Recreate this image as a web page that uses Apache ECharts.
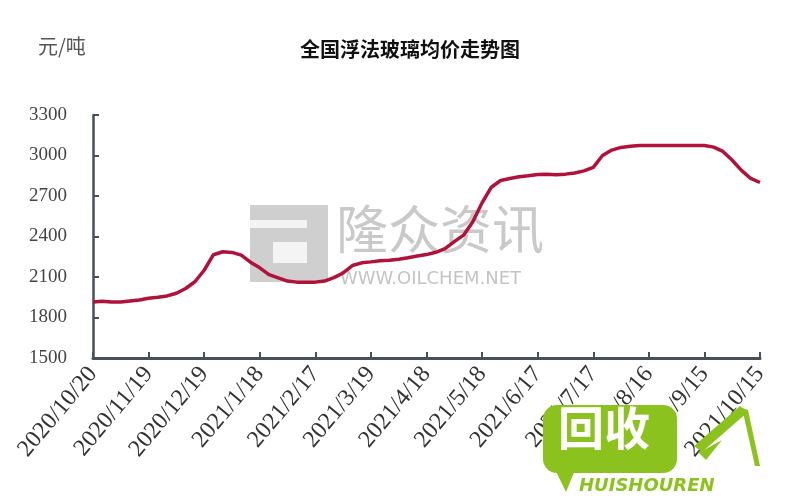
<!DOCTYPE html>
<html>
<head>
<meta charset="utf-8">
<script src="https://cdn.jsdelivr.net/npm/echarts@6/dist/echarts.min.js"></script>
<style>html,body{margin:0;padding:0;background:#fff;}#c{width:800px;height:500px;}</style>
</head>
<body>
<div id="c"></div>
<script>
var categories = [
'2020/10/20','2020/10/25','2020/10/30','2020/11/4','2020/11/9','2020/11/14',
'2020/11/19','2020/11/24','2020/11/29','2020/12/4','2020/12/9','2020/12/14',
'2020/12/19','2020/12/24','2020/12/29','2021/1/3','2021/1/8','2021/1/13',
'2021/1/18','2021/1/23','2021/1/28','2021/2/2','2021/2/7','2021/2/12',
'2021/2/17','2021/2/22','2021/2/27','2021/3/4','2021/3/9','2021/3/14',
'2021/3/19','2021/3/24','2021/3/29','2021/4/3','2021/4/8','2021/4/13',
'2021/4/18','2021/4/23','2021/4/28','2021/5/3','2021/5/8','2021/5/13',
'2021/5/18','2021/5/23','2021/5/28','2021/6/2','2021/6/7','2021/6/12',
'2021/6/17','2021/6/22','2021/6/27','2021/7/2','2021/7/7','2021/7/12',
'2021/7/17','2021/7/22','2021/7/27','2021/8/1','2021/8/6','2021/8/11',
'2021/8/16','2021/8/21','2021/8/26','2021/8/31','2021/9/5','2021/9/10',
'2021/9/15','2021/9/20','2021/9/25','2021/9/30','2021/10/5','2021/10/10',
'2021/10/15'
];
var priceValues = [
1915,1920,1915,1914,1922,1930,
1942,1950,1960,1980,2015,2065,
2150,2265,2287,2282,2262,2210,
2168,2118,2093,2070,2062,2062,
2062,2070,2095,2130,2185,2205,
2212,2220,2224,2232,2243,2255,
2266,2283,2310,2362,2410,2510,
2650,2765,2815,2830,2842,2850,
2860,2862,2858,2862,2870,2886,
2912,3000,3040,3060,3068,3074,
3074,3074,3074,3074,3074,3074,
3074,3062,3030,2965,2890,2830,
2800
];
var yTicks = [1500,1800,2100,2400,2700,3000,3300];
var titleText = '全国浮法玻璃均价走势图';
var unitText = '元/吨';

var chart = echarts.init(document.getElementById('c'), null, {renderer:'canvas'});
var axisColor = '#47515b';
chart.setOption({
  backgroundColor: '#ffffff',
  animation: false,
  title: {
    text: titleText,
    left: 405, top: 34, textAlign: 'center',
    textStyle: {fontFamily: 'Noto Sans CJK SC', fontWeight: 'bold', fontSize: 20, color: '#111'}
  },
  graphic: [
    {type:'text', left: 38, top: 36, z: 10,
     style:{text: unitText, font: 'normal 20px "Noto Sans CJK SC"', fill:'#555'}},
    // gray watermark
    {type:'rect', z: 0, shape:{x:250,y:205,width:78,height:77}, style:{fill:'#cfcfcf'}},
    {type:'rect', z: 0, shape:{x:250,y:220,width:57,height:8}, style:{fill:'#f4f4f4'}},
    {type:'rect', z: 0, shape:{x:273,y:242,width:34,height:21}, style:{fill:'#f4f4f4'}},
    {type:'text', z: 0, left: 336, top: 203,
     style:{text:'隆众资讯', font:'normal 52px "Noto Sans CJK SC"', fill:'#c9c9c9'}},
    {type:'text', z: 0, left: 340, top: 270,
     style:{text:'WWW.OILCHEM.NET', font:'normal 18px "DejaVu Sans"', fill:'#c4c4c4'}},
    // green watermark
    {type:'rect', z: 100, shape:{x:543,y:405,width:134,height:68,r:14}, style:{fill:'#8cc21e'}},
    {type:'polygon', z: 100, shape:{points:[[548,455],[575,470],[566,492]]}, style:{fill:'#8cc21e'}},
    {type:'text', z: 101, left: 558, top: 405,
     style:{text:'回收', font:'bold 46px "Noto Sans CJK SC"', fill:'#ffffff'}},
    {type:'text', z: 101, left: 579, top: 477,
     style:{text:'HUISHOUREN', font:'italic bold 18px "DejaVu Sans"', fill:'#8cc21e'}},
    {type:'polygon', z: 101, shape:{points:[[694,446],[702,452],[748,412],[740,406]]}, style:{fill:'#8cc21e'}},
    {type:'polygon', z: 101, shape:{points:[[742,408],[748,410],[760,466],[755,466]]}, style:{fill:'#8cc21e'}},
    {type:'polygon', z: 101, shape:{points:[[698,452],[704,450],[722,440],[706,460]]}, style:{fill:'#8cc21e'}}
  ],
  grid: {left: 93, right: 40, top: 115, bottom: 142, containLabel: false},
  xAxis: {
    type: 'category',
    data: categories,
    boundaryGap: false,
    axisLine: {show: true, lineStyle: {color: axisColor, width: 3}},
    axisTick: {show: true, inside: true, length: 6, interval: 5, lineStyle: {color: axisColor, width: 2}},
    axisLabel: {interval: 5, rotate: 50, margin: 12, color: '#333',
      fontFamily: 'Liberation Serif', fontSize: 24, showMaxLabel: true},
    splitLine: {show: false}
  },
  yAxis: {
    type: 'value',
    min: yTicks[0], max: yTicks[yTicks.length-1], interval: 300,
    axisLine: {show: true, lineStyle: {color: axisColor, width: 2.5}},
    axisTick: {show: true, inside: true, length: 6, lineStyle: {color: axisColor, width: 2}},
    axisLabel: {margin: 26, color: '#444', fontFamily: 'Liberation Serif', fontSize: 19,
      formatter: function (v) { return String(v); }},
    splitLine: {show: false}
  },
  series: [{
    type: 'line',
    data: priceValues,
    showSymbol: false,
    z: 5,
    lineStyle: {color: '#b0123c', width: 3.5},
    itemStyle: {color: '#b0123c'}
  }]
});
</script>
</body>
</html>
